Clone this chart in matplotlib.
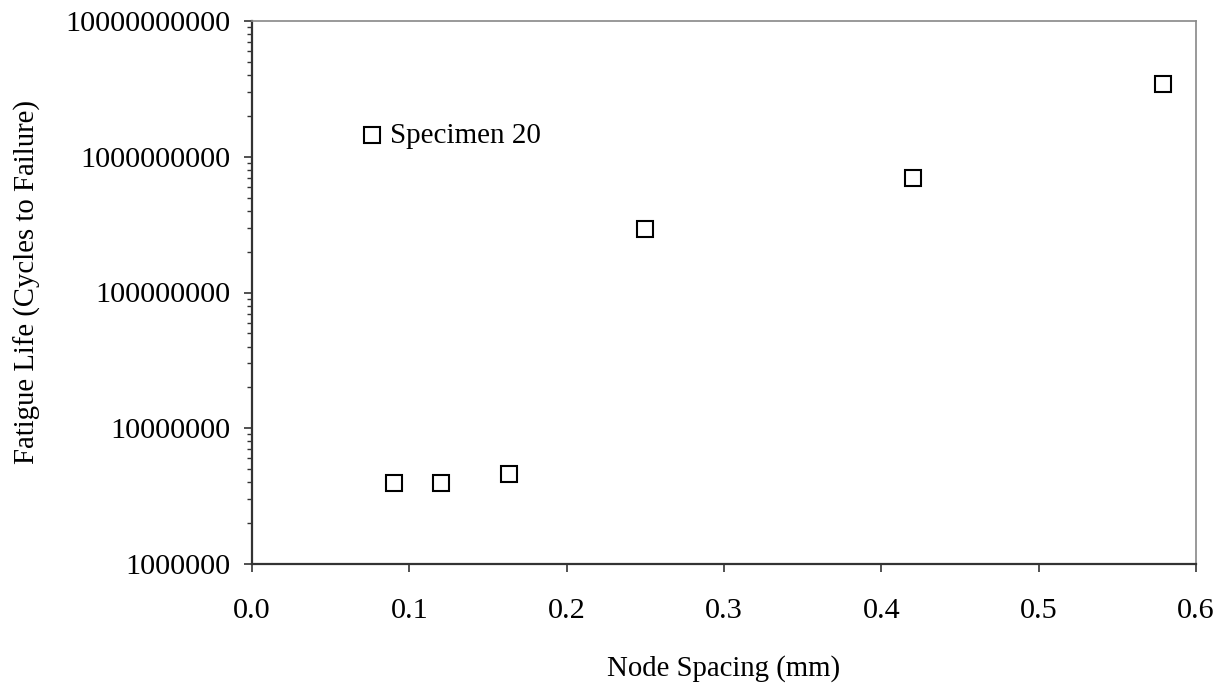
import matplotlib
matplotlib.use("Agg")
import matplotlib.pyplot as plt
from matplotlib.ticker import FixedLocator, FuncFormatter, LogLocator, NullFormatter

plt.rcParams['font.family'] = ['Liberation Serif', 'DejaVu Serif']

node_spacing = [0.0761, 0.0905, 0.1201, 0.1634, 0.2498, 0.4199, 0.5792]
fatigue_life = [1.45e9, 3.93e6, 3.93e6, 4.58e6, 2.92e8, 6.94e8, 3.44e9]
x_ticks = [0.0, 0.1, 0.2, 0.3, 0.4, 0.5, 0.6]
y_ticks = [1e6, 1e7, 1e8, 1e9, 1e10]
annot_label = "Specimen 20"
annot_index = 0

fig = plt.figure(figsize=(12.25, 6.86), dpi=100)
ax = fig.add_axes([252/1225, 1-564/686, (1196-252)/1225, (564-21)/686])

ax.plot(node_spacing, fatigue_life, linestyle='none', marker='s', markersize=11.5,
        markerfacecolor='white', markeredgecolor='black', markeredgewidth=1.5, clip_on=False)

ax.set_yscale('log')
ax.set_xlim(0, 0.6)
ax.set_ylim(1e6, 1e10)
ax.xaxis.set_major_locator(FixedLocator(x_ticks))
ax.xaxis.set_major_formatter(FuncFormatter(lambda v, p: f"{v:.1f}"))
ax.yaxis.set_major_locator(FixedLocator(y_ticks))
ax.yaxis.set_major_formatter(FuncFormatter(lambda v, p: f"{int(round(v))}"))
ax.yaxis.set_minor_locator(LogLocator(base=10, subs=range(2, 10)))
ax.yaxis.set_minor_formatter(NullFormatter())

ax.tick_params(axis='both', which='major', direction='out', length=5.8, width=1.2,
               color='#333333', labelsize=21.8, labelcolor='black')
ax.tick_params(axis='x', which='major', pad=19)
ax.tick_params(axis='y', which='major', pad=10)
ax.tick_params(axis='y', which='minor', direction='out', length=3.6, width=1.0, color='#333333')

for s in ['left', 'bottom']:
    ax.spines[s].set_color('#333333')
    ax.spines[s].set_linewidth(1.6)
for s in ['top', 'right']:
    ax.spines[s].set_color('#888888')
    ax.spines[s].set_linewidth(1.2)

ax.set_xlabel("Node Spacing (mm)", fontsize=20.7, labelpad=22)
ax.set_ylabel("Fatigue Life (Cycles to Failure)", fontsize=20.7, labelpad=17)
ax.yaxis.label.set_y(0.52)

ax.annotate(annot_label, xy=(node_spacing[annot_index], fatigue_life[annot_index]),
            xytext=(13, -1), textcoords='offset points', fontsize=21,
            va='center', ha='left')

fig.savefig("out.png", dpi=100, facecolor='white')
